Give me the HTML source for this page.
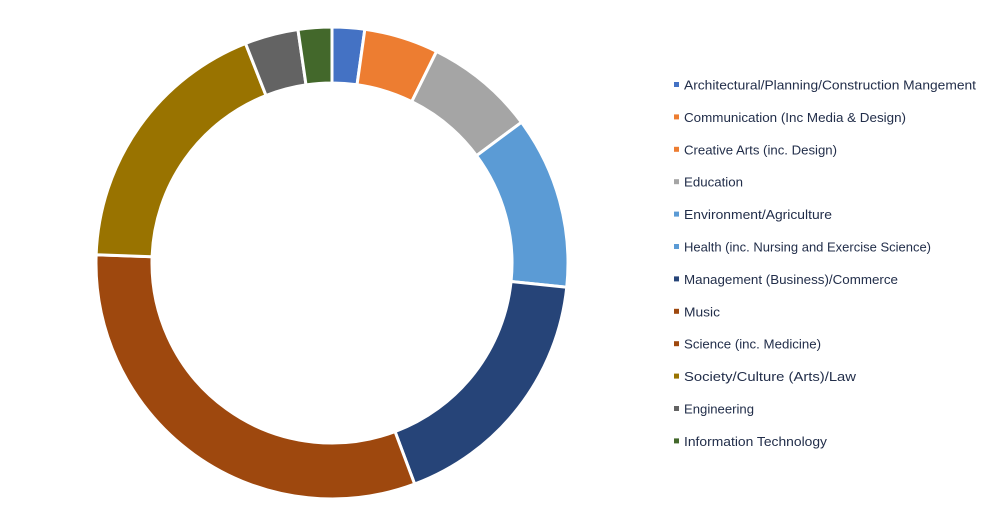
<!DOCTYPE html>
<html><head><meta charset="utf-8"><style>
body{margin:0;background:#fff;width:1000px;height:527px;overflow:hidden;font-family:"Liberation Sans",sans-serif}
svg{position:absolute;left:0;top:0}
</style></head><body>
<svg id="s" width="1000" height="527" xmlns="http://www.w3.org/2000/svg"></svg>
<script>
var s=document.getElementById('s'),cx=332,cy=263,R=236,r=180;
var segs=[[0,8,'#4472C4'],[8,26.3,'#ED7D31'],[26.3,53.4,'#A5A5A5'],[53.4,95.9,'#5B9BD5'],[95.9,159.5,'#264478'],[159.5,272,'#9E480E'],[272,338.5,'#997300'],[338.5,351.7,'#636363'],[351.7,360,'#43682B']];
function p(a,rad){a=a*Math.PI/180;return (cx+rad*Math.sin(a)).toFixed(2)+' '+(cy-rad*Math.cos(a)).toFixed(2);}
var h='';
segs.forEach(function(g){var l=(g[1]-g[0])>180?1:0;
h+='<path d="M'+p(g[0],R)+' A'+R+' '+R+' 0 '+l+' 1 '+p(g[1],R)+' L'+p(g[1],r)+' A'+r+' '+r+' 0 '+l+' 0 '+p(g[0],r)+' Z" fill="'+g[2]+'" stroke="#fff" stroke-width="3" stroke-linejoin="miter"/>';});
var leg=[['Architectural/Planning/Construction Mangement','#4472C4'],['Communication (Inc Media & Design)','#ED7D31'],['Creative Arts (inc. Design)','#ED7D31'],['Education','#A5A5A5'],['Environment/Agriculture','#5B9BD5'],['Health (inc. Nursing and Exercise Science)','#5B9BD5'],['Management (Business)/Commerce','#264478'],['Music','#9E480E'],['Science (inc. Medicine)','#9E480E'],['Society/Culture (Arts)/Law','#997300'],['Engineering','#636363'],['Information Technology','#43682B']];
var lens=[292,222,153,59,148,247,214,36,137,172,70,143];
leg.forEach(function(e,i){var y=85+i*32.4;
h+='<rect x="674" y="'+(y-3)+'" width="5" height="5" fill="'+e[1]+'"/>';
h+='<text x="684" y="'+(y+4.5)+'" font-size="13" fill="#222e4a" textLength="'+lens[i]+'" lengthAdjust="spacingAndGlyphs">'+e[0].replace('&','&amp;')+'</text>';});
s.innerHTML=h;
</script>
</body></html>
